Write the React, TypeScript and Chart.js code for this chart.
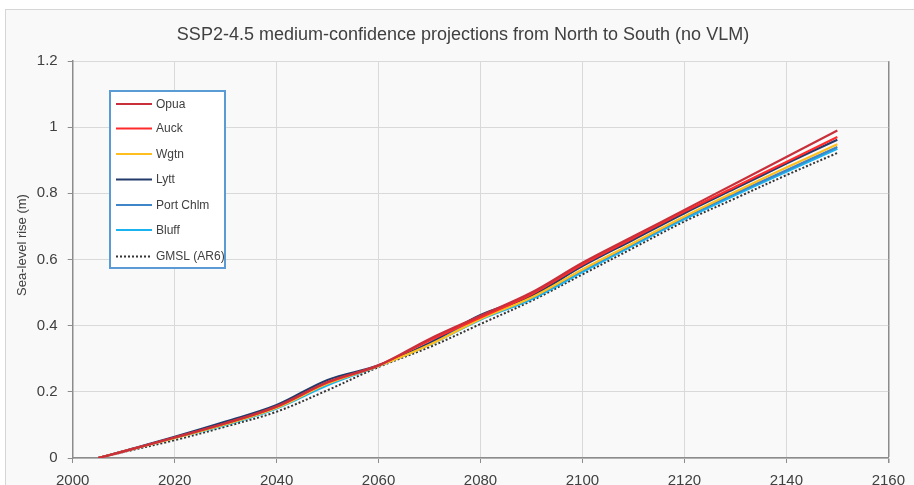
import React, { useEffect, useRef } from "react";
import { Chart, registerables } from "chart.js";

Chart.register(...registerables);

const years = [2005, 2010, 2020, 2030, 2040, 2050, 2060, 2070, 2080, 2090, 2100, 2110, 2120, 2130, 2140, 2150];
const opua = [0, 0.02, 0.062, 0.105, 0.156, 0.23, 0.28, 0.36, 0.43, 0.5, 0.59, 0.67, 0.75, 0.83, 0.91, 0.99];
const auck = [0, 0.02, 0.062, 0.105, 0.155, 0.228, 0.28, 0.355, 0.425, 0.495, 0.585, 0.665, 0.745, 0.82, 0.895, 0.97];
const wgtn = [0, 0.02, 0.06, 0.102, 0.152, 0.225, 0.278, 0.342, 0.42, 0.485, 0.57, 0.65, 0.73, 0.805, 0.878, 0.948];
const lytt = [0, 0.021, 0.064, 0.11, 0.16, 0.236, 0.28, 0.348, 0.432, 0.49, 0.58, 0.66, 0.74, 0.815, 0.89, 0.962];
const portChlm = [0, 0.02, 0.062, 0.104, 0.155, 0.228, 0.279, 0.345, 0.423, 0.485, 0.568, 0.648, 0.728, 0.8, 0.87, 0.94];
const bluff = [0, 0.02, 0.06, 0.1, 0.15, 0.22, 0.278, 0.342, 0.418, 0.48, 0.562, 0.643, 0.722, 0.795, 0.865, 0.935];
const gmsl = [0, 0.018, 0.054, 0.095, 0.14, 0.205, 0.275, 0.335, 0.405, 0.475, 0.555, 0.635, 0.715, 0.785, 0.855, 0.922];

const seriesLabels = ["Opua", "Auck", "Wgtn", "Lytt", "Port Chlm", "Bluff", "GMSL (AR6)"];
const seriesColors = ["#c8313b", "#ff2a2a", "#ffc01f", "#233a6b", "#3f86c8", "#19b4f0", "#333333"];
const seriesValues = [opua, auck, wgtn, lytt, portChlm, bluff, gmsl];

const titleText = "SSP2-4.5 medium-confidence projections from North to South (no VLM)";
const yTitle = "Sea-level rise (m)";

const FONT = "'Liberation Sans', Arial, sans-serif";
const GRID = "#d9d9d9";
const AXIS = "#8c8c8c";
const TEXT = "#404040";

const overlayPlugin = {
  id: "overlay",
  afterDraw(chart: any) {
    const ctx = chart.ctx;
    // chart title
    ctx.save();
    ctx.fillStyle = TEXT;
    ctx.font = "18px " + FONT;
    ctx.textAlign = "center";
    ctx.textBaseline = "middle";
    ctx.fillText(titleText, 463, 35);
    ctx.restore();

    // y axis title
    ctx.save();
    ctx.translate(22, 245);
    ctx.rotate(-Math.PI / 2);
    ctx.fillStyle = TEXT;
    ctx.font = "13px " + FONT;
    ctx.textAlign = "center";
    ctx.textBaseline = "middle";
    ctx.fillText(yTitle, 0, 0);
    ctx.restore();

    // legend
    ctx.save();
    const left = 110, top = 91, right = 225, bottom = 268;
    ctx.fillStyle = "#ffffff";
    ctx.fillRect(left, top, right - left, bottom - top);
    ctx.strokeStyle = "#5b9bd5";
    ctx.lineWidth = 2;
    ctx.strokeRect(left, top, right - left, bottom - top);
    const rows = [104, 128.5, 154, 179.5, 205, 230, 256.5];
    chart.data.datasets.forEach((ds: any, i: number) => {
      const y = rows[i];
      ctx.beginPath();
      ctx.strokeStyle = ds.borderColor;
      ctx.lineWidth = ds.borderWidth;
      ctx.setLineDash(ds.borderDash || []);
      ctx.moveTo(116, y);
      ctx.lineTo(152, y);
      ctx.stroke();
      ctx.setLineDash([]);
      ctx.fillStyle = TEXT;
      ctx.font = "12px " + FONT;
      ctx.textBaseline = "middle";
      ctx.textAlign = "left";
      ctx.fillText(ds.label, 156, y + 0.5);
    });
    ctx.restore();
  },
};

export default function App() {
  const ref = useRef<HTMLCanvasElement | null>(null);
  useEffect(() => {
    if (!ref.current) return;
    const datasets = seriesLabels.map((label, i) => ({
      label,
      data: years.map((yr, j) => ({ x: yr, y: seriesValues[i][j] })),
      borderColor: seriesColors[i],
      backgroundColor: seriesColors[i],
      borderWidth: i === 6 ? 2 : 2.2,
      borderDash: i === 6 ? [2, 2] : undefined,
      pointRadius: 0,
      tension: 0.35,
      fill: false,
    }));
    const chart = new Chart(ref.current, {
      type: "line",
      data: { datasets },
      options: {
        animation: false,
        responsive: false,
        maintainAspectRatio: false,
        layout: { padding: { left: 0, right: 24, top: 61, bottom: 0 } },
        plugins: {
          legend: { display: false },
          tooltip: { enabled: false },
          title: { display: false },
        },
        scales: {
          x: {
            type: "linear",
            min: 2000,
            max: 2160,
            afterFit: (s: any) => { s.height = 27; },
            ticks: {
              stepSize: 20,
              color: TEXT,
              font: { family: FONT, size: 15 },
              padding: 9,
              maxRotation: 0,
              callback: (v: any) => String(v),
            },
            grid: {
              color: (c: any) => (c.tick && c.tick.value === 2160 ? AXIS : GRID),
              tickColor: AXIS,
              tickLength: 5,
              lineWidth: (c: any) => (c.tick && c.tick.value === 2160 ? 1.5 : 1),
            },
            border: { color: AXIS, width: 1.5 },
          },
          y: {
            min: 0,
            max: 1.2,
            afterFit: (s: any) => { s.width = 72.7; },
            ticks: {
              stepSize: 0.2,
              color: TEXT,
              font: { family: FONT, size: 15 },
              padding: 10,
              callback: (v: any) => String(Math.round(Number(v) * 10) / 10),
            },
            grid: { color: GRID, tickColor: AXIS, tickLength: 5 },
            border: { color: AXIS, width: 1.5 },
          },
        },
      },
      plugins: [overlayPlugin],
    });
    return () => chart.destroy();
  }, []);
  return (
    <div style={{ position: "absolute", left: 0, top: 0, width: 914, height: 485, background: "#ffffff", overflow: "hidden" }}>
      <div style={{ position: "absolute", left: 5, top: 9, width: 920, height: 490, border: "1px solid #d6d6d6", background: "#f9f9f9" }} />
      <canvas ref={ref} width={914} height={485} style={{ position: "absolute", left: 0, top: 0, width: 914, height: 485 }} />
    </div>
  );
}
